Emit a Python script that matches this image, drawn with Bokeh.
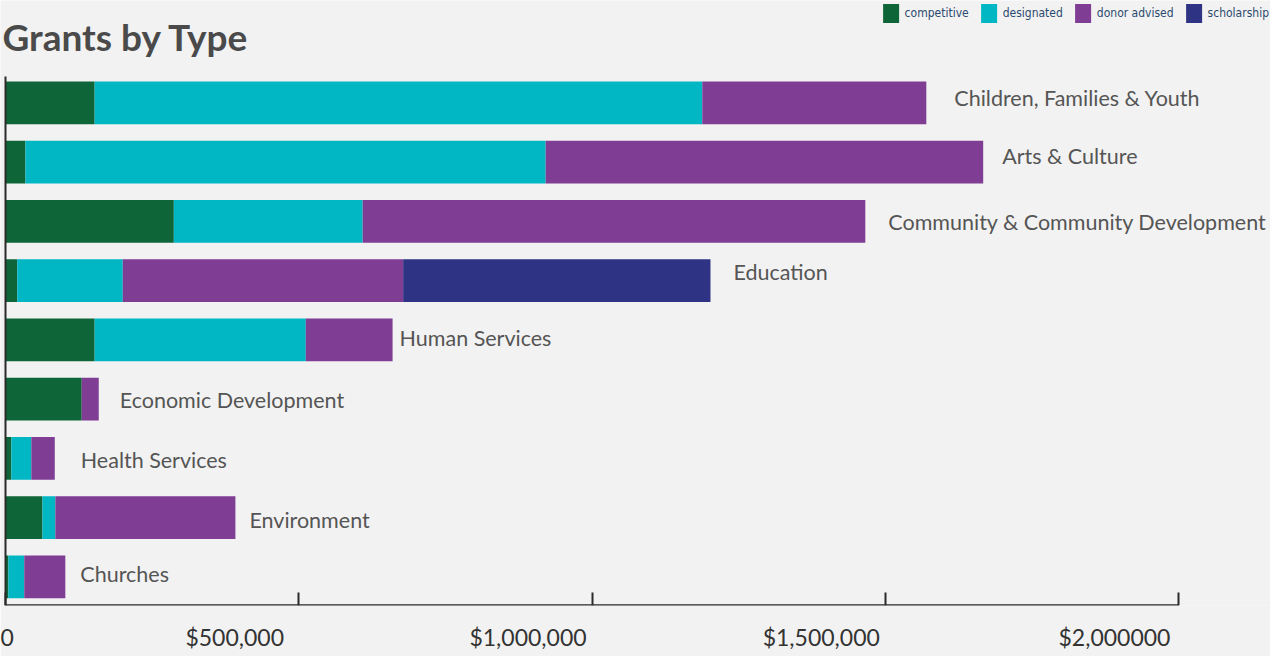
from bokeh.plotting import figure
from bokeh.models import (ColumnDataSource, Range1d, LinearAxis, FixedTicker,
                          Legend, LegendItem, Label)
from bokeh.core.properties import value
from bokeh.embed import file_html
from bokeh.resources import INLINE

# ---------------- data ----------------
categories = ["Children, Families & Youth", "Arts & Culture",
              "Community & Community Development", "Education",
              "Human Services", "Economic Development", "Health Services",
              "Environment", "Churches"]
competitive   = [152000,  34000, 287000,  20000, 152000, 130000, 10000,  63000,  5000]
designated    = [1036000, 887000, 322000, 180000, 360000,     0, 34000,  22000, 27000]
donor_advised = [382000, 746000, 857000, 478000, 148000,  29000, 40000, 307000, 70000]
scholarship   = [0, 0, 0, 524000, 0, 0, 0, 0, 0]
series_names  = ["competitive", "designated", "donor advised", "scholarship"]
x_ticks       = [0, 500000, 1000000, 1500000, 2000000]
x_tick_labels = ["0", "$500,000", "$1,000,000", "$1,500,000", "$2,000000"]
title_text    = "Grants by Type"

# ---------------- style / layout ----------------
colors = ["#0e6538", "#00b7c3", "#7f3d94", "#2e3383"]
W, H = 1270, 656
BOTTOM = 51
frame_h = H - BOTTOM
x0_px = 5
px_per_dollar = 1173 / 2000000
row_px = 59.25
last_row_px = 576.3
bar_h = 0.72
label_shift_px = 64
label_dx = [28, 19, 23, 23, 7, 21, 26, 14, 15]
label_dy = [-5, -6, 1, -9, -2, 1, 2, 2, -3]
title_px = (2, 35.5)          # left, anchor (pixels from top-left of figure)

n = len(categories)
ypos = [n - 1 - i for i in range(n)]
y_start = -(frame_h - last_row_px) / row_px
y_end = y_start + frame_h / row_px
x_start = -x0_px / px_per_dollar
x_end = (W - x0_px) / px_per_dollar
axis_top = y_end - 76 / row_px

src = ColumnDataSource(dict(y=ypos, competitive=competitive, designated=designated,
                            donor_advised=donor_advised, scholarship=scholarship))
totals = [a + b + c + d for a, b, c, d in zip(competitive, designated, donor_advised, scholarship)]
lab_src = ColumnDataSource(dict(x=totals, y=ypos, text=categories, dx=label_dx, dy=label_dy))

p = figure(width=W, height=H, output_backend="svg", toolbar_location=None, tools="",
           x_range=Range1d(x_start, x_end), y_range=Range1d(y_start, y_end),
           x_axis_location=None, y_axis_location=None,
           background_fill_color="#f2f2f2", border_fill_color="#f2f2f2",
           outline_line_color=None,
           min_border_left=0, min_border_right=0, min_border_top=0,
           min_border_bottom=BOTTOM)
for g in p.grid:
    g.visible = False
p.center = [r for r in p.center if r.__class__.__name__ != "Grid"]

stackers = ["competitive", "designated", "donor_advised", "scholarship"]
rs = p.hbar_stack(stackers, y="y", height=bar_h, fill_color=colors, line_color=None, source=src)

p.text(x="x", y="y", text="text", x_offset="dx", y_offset="dy", source=lab_src,
       text_font=value("Lato"), text_font_size="21.5px", text_color="#555555",
       text_baseline="middle", text_align="left")

# tick labels axis (labels sit offset to the left as in the original)
shift = int(round(label_shift_px / px_per_dollar))
label_pos = [0] + [t - shift for t in x_ticks[1:]]
label_axis = LinearAxis(ticker=FixedTicker(ticks=label_pos),
                        major_label_overrides={pos: lab for pos, lab in zip(label_pos, x_tick_labels)},
                        axis_line_color=None, major_tick_line_color=None,
                        minor_tick_line_color=None, major_label_standoff=11,
                        major_label_text_font="Lato", major_label_text_font_size="23px",
                        major_label_text_color="#333333")
p.add_layout(label_axis, "below")

# x axis line + inward ticks, fixed at the frame bottom
xaxis = LinearAxis(fixed_location=y_start, ticker=FixedTicker(ticks=x_ticks), bounds=(0, 2000000),
                   axis_line_width=2.5, axis_line_color="#2a2a2a",
                   major_tick_in=13, major_tick_out=0, major_tick_line_width=2,
                   major_tick_line_color="#2a2a2a", minor_tick_line_color=None,
                   major_label_text_color=None)
p.add_layout(xaxis, "below")

# left axis line
yaxis = LinearAxis(fixed_location=0, bounds=(y_start, axis_top), ticker=FixedTicker(ticks=[]),
                   axis_line_width=2, axis_line_color="#2a2a2a",
                   major_tick_line_color=None, minor_tick_line_color=None,
                   major_label_text_color=None)
p.add_layout(yaxis, "left")

title = Label(x=x_start + title_px[0] / px_per_dollar, y=y_end - title_px[1] / row_px,
              text=title_text, text_font="Lato", text_font_size="37px",
              text_font_style="bold", text_color="#4a4a4a", text_baseline="alphabetic")
p.add_layout(title)

legend = Legend(items=[LegendItem(label=nm, renderers=[r]) for nm, r in zip(series_names, rs)],
                location="top_right", orientation="horizontal",
                background_fill_alpha=0, border_line_color=None,
                glyph_width=20, glyph_height=24, label_height=24, label_standoff=4,
                spacing=10, padding=0, margin=1,
                label_text_font="'DejaVu Sans Condensed', 'Liberation Sans Narrow', Roboto",
                label_text_font_size="12px",
                label_text_color="#2c4a6e")
p.add_layout(legend)

open("out.html", "w").write(file_html(p, INLINE))
